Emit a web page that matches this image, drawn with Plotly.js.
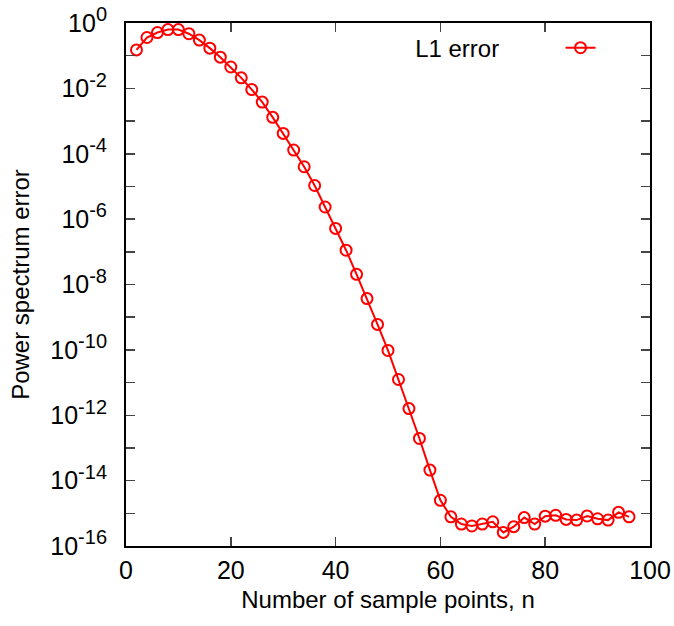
<!DOCTYPE html>
<html>
<head>
<meta charset="utf-8">
<script src="https://cdn.plot.ly/plotly-3.0.1.min.js"></script>
<style>html,body{margin:0;padding:0;background:#fff;}#chart{width:674px;height:626px;}</style>
</head>
<body>
<div id="chart"></div>
<script>
var nPoints = [2,4,6,8,10,12,14,16,18,20,22,24,26,28,30,32,34,36,38,40,42,44,46,48,50,52,54,56,58,60,62,64,66,68,70,72,74,76,78,80,82,84,86,88,90,92,94,96];
var l1Error = [0.15,0.36,0.51,0.63,0.63,0.47,0.30,0.17,0.09,0.045,0.021,0.0092,0.0038,1.3e-3,4.2e-4,1.3e-4,4.0e-5,1.07e-5,2.35e-6,5.2e-7,1.12e-7,2.05e-8,3.7e-9,6.0e-10,9.6e-11,1.24e-11,1.6e-12,1.95e-13,2.1e-14,2.5e-15,7.8e-16,4.7e-16,4.1e-16,4.7e-16,5.5e-16,2.6e-16,3.9e-16,7.4e-16,4.7e-16,8.2e-16,8.7e-16,6.5e-16,6.2e-16,8.3e-16,6.8e-16,6.2e-16,1.07e-15,7.8e-16];
var yTickVals = [1,1e-1,1e-2,1e-3,1e-4,1e-5,1e-6,1e-7,1e-8,1e-9,1e-10,1e-11,1e-12,1e-13,1e-14,1e-15,1e-16];
var yTickExp = ['0','','-2','','-4','','-6','','-8','','-10','','-12','','-14','','-16'];
var xTickVals = [0,20,40,60,80,100];
var seriesName = 'L1 error';

var yTickText = yTickExp.map(function(e){ return e === '' ? '' : '10<sup><span style="font-size:20px">' + e + '</span></sup>'; });

var font = 'Liberation Sans, Arial, Helvetica, sans-serif';
var trace = {
  x: nPoints, y: l1Error, type: 'scatter', mode: 'lines+markers', name: ' ',
  line: {color: '#ff0000', width: 2},
  marker: {symbol: 'circle-open', size: 11, color: '#ff0000', line: {width: 2, color: '#ff0000'}}
};
var layout = {
  width: 674, height: 626,
  margin: {l: 126, r: 24, t: 23, b: 80},
  paper_bgcolor: '#fff', plot_bgcolor: '#fff',
  font: {family: font, color: '#000', size: 24},
  showlegend: true,
  legend: {x: 0.548, y: 0.995, xanchor: 'left', yanchor: 'top', bgcolor: 'rgba(0,0,0,0)',
           font: {size: 24}, title: {text: seriesName + '\u00a0\u00a0\u00a0\u00a0\u00a0\u00a0\u00a0\u00a0', side: 'left', font: {size: 24}}},
  xaxis: {range: [0, 100], tickvals: xTickVals, ticks: 'inside', ticklen: 9, tickwidth: 1.5,
          showline: true, linewidth: 2, linecolor: '#000', mirror: 'allticks', showgrid: false, zeroline: false,
          automargin: false, ticklabelstandoff: 1,
          tickfont: {size: 25}, title: {text: 'Number of sample points, n', font: {size: 24}, standoff: 8}},
  yaxis: {type: 'log', range: [-16, 0], tickvals: yTickVals, ticktext: yTickText, ticks: 'inside', ticklen: 9, tickwidth: 1.5,
          showline: true, linewidth: 2, linecolor: '#000', mirror: 'allticks', showgrid: false, zeroline: false,
          automargin: false, ticklabelstandoff: 12,
          tickfont: {size: 25}, title: {text: 'Power spectrum error', font: {size: 24}, standoff: 14}}
};
Plotly.newPlot('chart', [trace], layout, {displayModeBar: false, staticPlot: true});
</script>
</body>
</html>
